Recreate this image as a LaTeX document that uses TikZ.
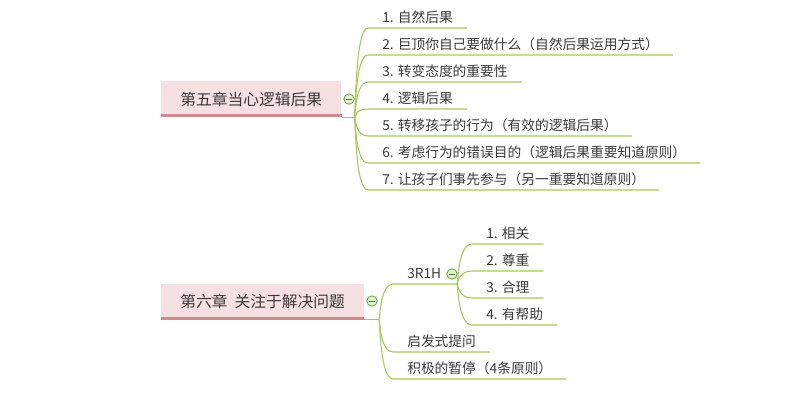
\documentclass[tikz,border=0pt]{standalone}
\usepackage{fontspec}
\setmainfont{Noto Sans CJK SC}

\definecolor{linegreen}{HTML}{A7C95B}
\definecolor{rootpink}{HTML}{F6E0E1}
\definecolor{rootbar}{HTML}{D4898C}
\definecolor{foldgreen}{HTML}{62A63C}
\definecolor{foldfill}{HTML}{E2F0D3}
\definecolor{txtgray}{HTML}{3A3A3A}

\tikzset{
  branch/.style={draw=linegreen, line width=0.8pt},
  rootbox/.style={fill=rootpink, anchor=west, inner xsep=14.4pt, minimum height=27pt,
    font=\fontsize{11.8}{14}\selectfont, text=txtgray},
  leaf/.style={anchor=south west, inner xsep=10.5pt, inner ysep=4pt, text depth=0pt,
    font=\fontsize{10.3}{12}\selectfont, text=txtgray},
  fold/.style={circle, draw=foldgreen, fill=foldfill, minimum size=7.8pt, inner sep=0pt,
    line width=0.6pt, path picture={
      \draw[foldgreen!70!black, line width=0.7pt]
        ([xshift=-2pt]path picture bounding box.center) --
        ([xshift=2pt]path picture bounding box.center);}}
}

\begin{document}
\begin{tikzpicture}[x=0.75pt,y=-0.75pt]
        \useasboundingbox (0,0) rectangle (800,404);

        % chapter 5
        \node[rootbox] (r5) at (161,99) {第五章当心逻辑后果};
        \fill[rootbar] (r5.south west) rectangle ([yshift=2.3pt]r5.south east);
        \coordinate (h5) at ([xshift=9.75pt]r5.south east);
        \draw[branch] (r5.south east) -- (h5);

        \node[leaf] (a1) at (368,28) {1. 自然后果};
        \node[leaf] (a2) at (368,55) {2. 巨顶你自己要做什么（自然后果运用方式）};
        \node[leaf] (a3) at (368,82) {3. 转变态度的重要性};
        \node[leaf] (a4) at (368,109) {4. 逻辑后果};
        \node[leaf] (a5) at (368,136) {5. 转移孩子的行为（有效的逻辑后果）};
        \node[leaf] (a6) at (368,163) {6. 考虑行为的错误目的（逻辑后果重要知道原则）};
        \node[leaf] (a7) at (368,190) {7. 让孩子们事先参与（另一重要知道原则）};

        \foreach \i in {1,...,7}
            \draw[branch] (h5) .. controls +(1,0) and +(-13,0) .. (a\i.south west) -- (a\i.south east);

        \node[fold] (f5) at (349,99) {};

        % chapter 6
        \node[rootbox] (r6) at (161,301.5) {第六章\ \ 关注于解决问题};
        \fill[rootbar] (r6.south west) rectangle ([yshift=2.3pt]r6.south east);
        \coordinate (h6) at ([xshift=11pt]r6.south east);
        \draw[branch] (r6.south east) -- (h6);

        \node[leaf] (b1) at (393,284) {3R1H};
        \coordinate (h3) at (457,284);
        \node[leaf] (b2) at (393,352) {启发式提问};
        \node[leaf] (b3) at (393,379) {积极的暂停（4条原则）};

        \draw[branch] (h6) .. controls +(1,0) and +(-13,0) .. (b1.south west) -- (h3);
        \draw[branch] (h6) .. controls +(1,0) and +(-13,0) .. (b2.south west) -- (b2.south east);
        \draw[branch] (h6) .. controls +(1,0) and +(-13,0) .. (b3.south west) -- (b3.south east);

        \node[leaf] (c1) at (472,244) {1. 相关};
        \node[leaf] (c2) at (472,271) {2. 尊重};
        \node[leaf] (c3) at (472,298) {3. 合理};
        \node[leaf] (c4) at (472,325) {4. 有帮助};

        \foreach \i in {1,...,4}
            \draw[branch] (h3) .. controls +(1,0) and +(-14,0) .. (c\i.south west) -- (c\i.south east);

        \node[fold] (f6) at (372,301) {};
        \node[fold] (f3) at (452,274) {};
    \end{tikzpicture}
\end{document}
